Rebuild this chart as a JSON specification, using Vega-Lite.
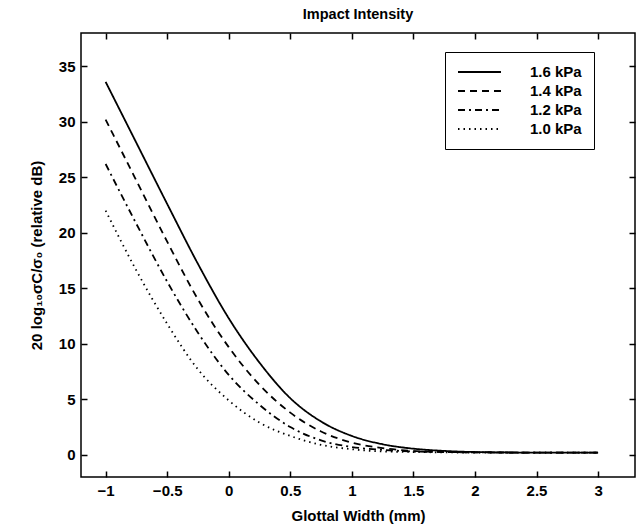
{
  "$schema": "https://vega.github.io/schema/vega-lite/v6.json",
  "width": 554,
  "height": 444,
  "autosize": {"type": "none"},
  "padding": {"left": 81, "top": 33, "right": 3, "bottom": 51},
  "background": "white",
  "title": {"text": "Impact Intensity", "font": "Liberation Sans", "fontSize": 14.5, "fontWeight": "bold", "offset": 10, "color": "black"},
  "config": {
    "view": {"stroke": "black", "strokeWidth": 1.5},
    "axis": {"labelFont": "Liberation Sans", "labelFontSize": 15, "labelFontWeight": "bold", "labelColor": "black", "titleFont": "Liberation Sans", "titleFontSize": 15, "titleFontWeight": "bold", "titleColor": "black", "grid": false, "domain": false, "tickColor": "black", "tickSize": 6, "tickWidth": 1.5, "offset": -6}
  },
  "data": {"values": [
    {"x": -1, "y": 33.6, "p": "1.6 kPa"}, {"x": -0.75, "y": 28.1, "p": "1.6 kPa"}, {"x": -0.5, "y": 22.6, "p": "1.6 kPa"}, {"x": -0.25, "y": 17.2, "p": "1.6 kPa"}, {"x": 0, "y": 12.3, "p": "1.6 kPa"}, {"x": 0.25, "y": 8.3, "p": "1.6 kPa"}, {"x": 0.5, "y": 5.1, "p": "1.6 kPa"}, {"x": 0.75, "y": 3.0, "p": "1.6 kPa"}, {"x": 1.0, "y": 1.7, "p": "1.6 kPa"}, {"x": 1.25, "y": 0.95, "p": "1.6 kPa"}, {"x": 1.5, "y": 0.55, "p": "1.6 kPa"}, {"x": 1.75, "y": 0.35, "p": "1.6 kPa"}, {"x": 2.0, "y": 0.25, "p": "1.6 kPa"}, {"x": 2.5, "y": 0.2, "p": "1.6 kPa"}, {"x": 3.0, "y": 0.2, "p": "1.6 kPa"},
    {"x": -1, "y": 30.2, "p": "1.4 kPa"}, {"x": -0.75, "y": 24.7, "p": "1.4 kPa"}, {"x": -0.5, "y": 19.2, "p": "1.4 kPa"}, {"x": -0.25, "y": 14.0, "p": "1.4 kPa"}, {"x": 0, "y": 9.7, "p": "1.4 kPa"}, {"x": 0.25, "y": 6.3, "p": "1.4 kPa"}, {"x": 0.5, "y": 3.8, "p": "1.4 kPa"}, {"x": 0.75, "y": 2.1, "p": "1.4 kPa"}, {"x": 1.0, "y": 1.1, "p": "1.4 kPa"}, {"x": 1.25, "y": 0.6, "p": "1.4 kPa"}, {"x": 1.5, "y": 0.35, "p": "1.4 kPa"}, {"x": 1.75, "y": 0.25, "p": "1.4 kPa"}, {"x": 2.0, "y": 0.22, "p": "1.4 kPa"}, {"x": 2.5, "y": 0.2, "p": "1.4 kPa"}, {"x": 3.0, "y": 0.2, "p": "1.4 kPa"},
    {"x": -1, "y": 26.2, "p": "1.2 kPa"}, {"x": -0.75, "y": 20.8, "p": "1.2 kPa"}, {"x": -0.5, "y": 15.6, "p": "1.2 kPa"}, {"x": -0.25, "y": 11.0, "p": "1.2 kPa"}, {"x": 0, "y": 7.2, "p": "1.2 kPa"}, {"x": 0.25, "y": 4.5, "p": "1.2 kPa"}, {"x": 0.5, "y": 2.5, "p": "1.2 kPa"}, {"x": 0.75, "y": 1.3, "p": "1.2 kPa"}, {"x": 1.0, "y": 0.7, "p": "1.2 kPa"}, {"x": 1.25, "y": 0.45, "p": "1.2 kPa"}, {"x": 1.5, "y": 0.3, "p": "1.2 kPa"}, {"x": 1.75, "y": 0.25, "p": "1.2 kPa"}, {"x": 2.0, "y": 0.22, "p": "1.2 kPa"}, {"x": 2.5, "y": 0.2, "p": "1.2 kPa"}, {"x": 3.0, "y": 0.2, "p": "1.2 kPa"},
    {"x": -1, "y": 22.0, "p": "1.0 kPa"}, {"x": -0.75, "y": 16.6, "p": "1.0 kPa"}, {"x": -0.5, "y": 11.8, "p": "1.0 kPa"}, {"x": -0.25, "y": 7.7, "p": "1.0 kPa"}, {"x": 0, "y": 4.9, "p": "1.0 kPa"}, {"x": 0.25, "y": 2.9, "p": "1.0 kPa"}, {"x": 0.5, "y": 1.7, "p": "1.0 kPa"}, {"x": 0.75, "y": 0.9, "p": "1.0 kPa"}, {"x": 1.0, "y": 0.5, "p": "1.0 kPa"}, {"x": 1.25, "y": 0.3, "p": "1.0 kPa"}, {"x": 1.5, "y": 0.25, "p": "1.0 kPa"}, {"x": 1.75, "y": 0.22, "p": "1.0 kPa"}, {"x": 2.0, "y": 0.2, "p": "1.0 kPa"}, {"x": 2.5, "y": 0.2, "p": "1.0 kPa"}, {"x": 3.0, "y": 0.2, "p": "1.0 kPa"}
  ]},
  "layer": [
    {
      "mark": {"type": "line", "color": "black", "strokeWidth": 1.8, "interpolate": "monotone", "clip": true},
      "encoding": {
        "x": {"field": "x", "type": "quantitative", "scale": {"domain": [-1.2, 3.3], "nice": false, "zero": false}, "axis": {"values": [-1, -0.5, 0, 0.5, 1, 1.5, 2, 2.5, 3], "format": "~g", "title": "Glottal Width (mm)", "labelPadding": 6, "titlePadding": 10}},
        "y": {"field": "y", "type": "quantitative", "scale": {"domain": [-2, 38], "nice": false, "zero": false}, "axis": {"values": [0, 5, 10, 15, 20, 25, 30, 35], "title": "20 log₁₀σC/σ₀   (relative dB)", "labelPadding": 6, "titlePadding": 14}},
        "strokeDash": {"field": "p", "type": "nominal", "scale": {"domain": ["1.6 kPa", "1.4 kPa", "1.2 kPa", "1.0 kPa"], "range": [[1, 0], [7, 5], [7, 4, 2, 4], [1.5, 4]]},
          "legend": {"title": null, "orient": "none", "legendX": 364, "legendY": 19, "symbolType": "M-1,0H5.14", "symbolSize": 196, "symbolStrokeColor": "black", "symbolStrokeWidth": 2, "labelFont": "Liberation Sans", "labelFontSize": 15, "labelFontWeight": "bold", "labelColor": "black", "labelOffset": 57, "rowPadding": 3, "strokeColor": "black", "fillColor": "white", "padding": 12, "direction": "vertical"}}
      }
    },
    {
      "mark": {"type": "line", "opacity": 0},
      "encoding": {
        "x": {"field": "x", "type": "quantitative", "axis": {"orient": "top", "values": [-1, -0.5, 0, 0.5, 1, 1.5, 2, 2.5, 3], "labels": false, "title": null}},
        "y": {"field": "y", "type": "quantitative", "axis": {"orient": "right", "values": [0, 5, 10, 15, 20, 25, 30, 35], "labels": false, "title": null}},
        "detail": {"field": "p"}
      }
    }
  ],
  "resolve": {"axis": {"x": "independent", "y": "independent"}}
}
